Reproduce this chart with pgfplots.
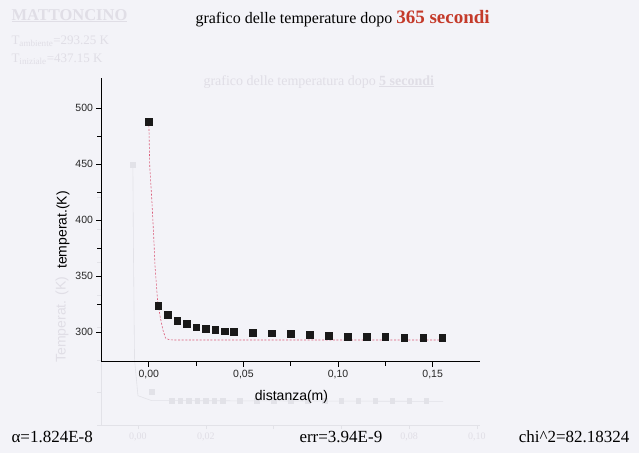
\documentclass[border=0pt]{standalone}
\usepackage{fontspec}
\setmainfont{Liberation Serif}
\setsansfont{Liberation Sans}
\usepackage{pgfplots}
\pgfplotsset{compat=1.18}

\definecolor{bgcol}{RGB}{243,243,248}
\definecolor{titlered}{RGB}{196,58,42}
\definecolor{fitcol}{RGB}{218,90,120}
\definecolor{ghost}{RGB}{226,226,232}
\definecolor{ghosttxt}{RGB}{224,222,230}

\begin{document}
\begin{tikzpicture}
\useasboundingbox (0pt,0pt) rectangle (639pt,-453pt);
\fill[bgcol] (0pt,0pt) rectangle (639pt,-453pt);

% faint show-through from the previous sheet
\node[anchor=base west, text=ghosttxt, font=\fontsize{16.5}{18}\selectfont\bfseries]
  at (8pt,-20pt) {\underline{MATTONCINO}};
\node[anchor=base west, text=ghosttxt, font=\fontsize{13}{14}\selectfont]
  at (8pt,-44pt) {T\textsubscript{ambiente}=293.25 K};
\node[anchor=base west, text=ghosttxt, font=\fontsize{13}{14}\selectfont]
  at (8pt,-62pt) {T\textsubscript{iniziale}=437.15 K};
\node[anchor=base west, text=ghosttxt, font=\fontsize{14}{16}\selectfont]
  at (200pt,-85pt) {grafico delle temperatura dopo \underline{\bfseries 5 secondi}};

\begin{axis}[
  at={(101pt,-425pt)}, anchor=south west,
  scale only axis, width=379pt, height=285pt,
  xmin=-0.0109, xmax=0.1009, ymin=300, ymax=475,
  axis x line*=bottom, axis y line*=left,
  axis line style={ghost, line width=0.8pt},
  xtick={0,0.02,0.04,0.06,0.08,0.1},
  xticklabels={{0,00},{0,02},{},{},{0,08},{0,10}},
  ytick={300,320,...,460}, yticklabels={},
  tick align=outside, major tick length=4pt,
  tick style={ghost},
  ticklabel style={text=ghosttxt},
  font=\fontsize{10}{12}\selectfont,
  ylabel={Temperat. (K)},
  ylabel style={text=ghosttxt, font=\sffamily\fontsize{14}{16}\selectfont,
    at={(axis description cs:-0.103,0.37)}, anchor=center},
  clip=false,
]
\addplot[ghost, line width=0.6pt] coordinates {
  (-0.0015,460) (-0.0013,400) (-0.0010,340) (0.000,318) (0.004,315) (0.09,314.5)
};
\addplot[only marks, mark=square*, mark size=2.3pt, color=ghost] coordinates {
  (-0.0015,460) (0.004,320.3)
  (0.010,314.8) (0.0125,314.8) (0.015,314.8) (0.0175,314.8) (0.020,314.8)
  (0.0225,314.8) (0.025,314.8) (0.030,314.8) (0.035,314.8) (0.040,314.8)
  (0.045,314.8) (0.050,314.8) (0.055,314.8) (0.060,314.8) (0.065,314.8)
  (0.070,314.8) (0.075,314.8) (0.080,314.8) (0.085,314.8)
};
\end{axis}

% main chart
\node[anchor=base west, font=\fontsize{16}{18}\selectfont]
  at (192pt,-23pt) {grafico delle temperature dopo \textcolor{titlered}{\fontsize{19}{20}\selectfont\bfseries 365 secondi}};

\begin{axis}[
  at={(101.5pt,-361.5pt)}, anchor=south west,
  scale only axis, width=378.5pt, height=283.5pt,
  xmin=-0.025, xmax=0.175, ymin=274, ymax=527,
  axis x line*=bottom, axis y line*=left,
  axis line style={black, line width=0.8pt},
  xtick={0,0.05,0.1,0.15}, ytick={300,350,...,500},
  minor x tick num=1, minor y tick num=1,
  tick align=outside, major tick length=5pt, minor tick length=4pt,
  tick style={black, line width=0.7pt},
  /pgf/number format/assume math mode=true,
  xticklabel style={/pgf/number format/.cd, fixed, fixed zerofill, precision=2, use comma},
  ticklabel style={text=black!85},
  font=\sffamily\fontsize{10.5}{12}\selectfont,
  xlabel={distanza(m)},
  ylabel={temperat.(K)},
  xlabel style={font=\sffamily\fontsize{14}{16}\selectfont,
    at={(axis description cs:0.502,-0.125)}, anchor=center},
  ylabel style={font=\sffamily\fontsize{14}{16}\selectfont,
    at={(axis description cs:-0.102,0.464)}, anchor=center},
  clip=false,
]
% fitted profile (dashed)
\addplot[fitcol, line width=0.6pt, dash pattern=on 2pt off 1.6pt] coordinates {
  (0.0000,488) (0.0005,448) (0.0016,418) (0.0025,388.6) (0.0033,358.8)
  (0.0046,329) (0.0060,314) (0.0074,302.4) (0.0088,295) (0.0107,293.5)
  (0.0130,293.2) (0.1560,293.2)
};
% measured temperatures
\addplot[only marks, mark=square*, mark size=3.3pt, color=black!90] coordinates {
  (0.000,488.0) (0.005,323.8) (0.010,315.8) (0.015,310.2) (0.020,308.0)
  (0.025,304.5) (0.030,303.3) (0.035,302.4) (0.040,301.2) (0.045,300.6)
  (0.055,299.7) (0.065,299.1) (0.075,298.6) (0.085,297.7) (0.095,297.0)
  (0.105,296.4) (0.115,296.2) (0.125,295.9) (0.135,295.5) (0.145,295.0)
  (0.155,295.0)
};
\end{axis}

\node[anchor=base west, font=\fontsize{17}{19}\selectfont] at (8pt,-442pt) {α=1.824E-8};
\node[anchor=base west, font=\fontsize{17}{19}\selectfont] at (296pt,-442pt) {err=3.94E-9};
\node[anchor=base east, font=\fontsize{17}{19}\selectfont] at (633pt,-442pt) {chi\^{}2=82.18324};
\end{tikzpicture}
\end{document}
